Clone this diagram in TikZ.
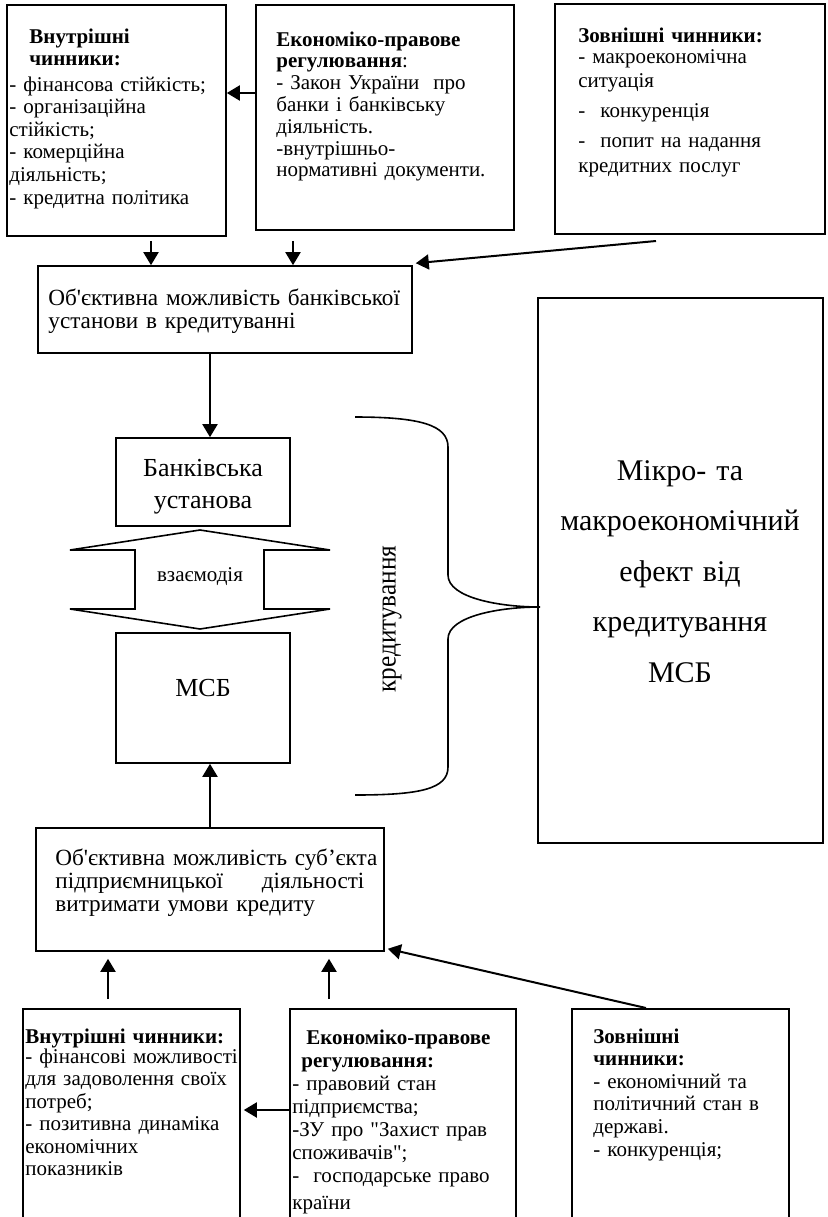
\documentclass[tikz,border=0pt]{standalone}
\usepackage{fontspec}
\setmainfont{Liberation Serif}[Ligatures=TeXOff]
\usetikzlibrary{arrows.meta,fit,calc}

\tikzset{
  box/.style={draw, line width=0.8pt, inner sep=0pt},
  arr/.style={line width=1pt, -{Triangle[length=6.5pt,width=7.5pt]}},
  txt/.style={anchor=base west, inner sep=0pt, align=left},
  ctxt/.style={anchor=base, inner sep=0pt, align=center},
}

\begin{document}
\begin{tikzpicture}[x=0.5pt, y=-0.5pt]
    \path[use as bounding box, clip] (0,0) rectangle (827,1217);

    \node (a) [box, fit={(7,5) (226,236)}] {};
    \node (b) [box, fit={(256,5) (514,230)}] {};
    \node (c) [box, fit={(555,4) (825,234)}] {};
    \node (d) [box, fit={(38,266) (412,353)}] {};
    \node (bank) [box, fit={(116,438) (290,526)}] {};
    \node (msb) [box, fit={(116,633) (290,763)}] {};
    \node (effect) [box, fit={(538,298) (823,843)}] {};
    \node (d2) [box, fit={(36,828) (384,951)}] {};
    \node (a2) [box, fit={(23,1009) (240,1240)}] {};
    \node (b2) [box, fit={(290,1009) (516,1240)}] {};
    \node (c2) [box, fit={(572,1009) (789,1240)}] {};

    \node (atitle) [txt, text width=90pt, font=\fontsize{10.5}{11.3}\selectfont] at (29,43)
      {\textbf{Внутрішні}\\ \textbf{чинники:}};
    \node (atxt) [txt, text width=110pt, font=\fontsize{10.5}{11.3}\selectfont] at (9,91)
      {- фінансова стійкість;\\ - організаційна\\ стійкість;\\ - комерційна\\
       діяльність;\\ - кредитна політика};
    \node (btxt) [txt, text width=125pt, font=\fontsize{10.5}{10.9}\selectfont] at (276,46)
      {\textbf{Економіко-правове}\\ \textbf{регулювання}:\\ - Закон України\ \ про\\
       банки і банківську\\ діяльність.\\ -внутрішньо-\\ нормативні документи.};
    \node (ctxt) [txt, text width=125pt, font=\fontsize{10.5}{10.5}\selectfont] at (578,42)
      {\textbf{Зовнішні чинники:}\\ - макроекономічна\\[1.5pt] ситуація\\[4.5pt]
       -\hspace{7.5pt}конкуренція\\[4.5pt] -\hspace{7.5pt}попит на надання\\[2pt]
       кредитних послуг};
    \node (dtxt) [txt, text width=185pt, font=\fontsize{11.6}{11.6}\selectfont] at (48,305)
      {Об'єктивна можливість банківської\\ установи в кредитуванні};
    \node (banktxt) [ctxt, text width=85pt, font=\fontsize{13}{16}\selectfont] at (203,476)
      {Банківська\\ установа};
    \node (msbtxt) [ctxt, font=\fontsize{13}{16}\selectfont] at (203,696) {МСБ};
    \node (effecttxt) [ctxt, text width=140pt, font=\fontsize{15}{25.25}\selectfont] at (680,480)
      {Мікро- та\\ макроекономічний\\ ефект від\\ кредитування\\ МСБ};
    \node (d2txt) [txt, text width=170pt, font=\fontsize{11.6}{11.6}\selectfont] at (55,865)
      {Об'єктивна можливість суб’єкта\\
       \makebox[154.5pt]{підприємницької\hfill діяльності}\\ витримати умови кредиту};
    \node (a2txt) [txt, text width=115pt, font=\fontsize{10.5}{11.2}\selectfont] at (25,1043)
      {\textbf{Внутрішні чинники:}\\[-1pt] - фінансові можливості\\ для задоволення своїх\\
       потреб;\\ - позитивна динаміка\\ економічних\\ показників};
    \node (b2txt) [txt, text width=115pt, font=\fontsize{10.5}{11.5}\selectfont] at (292,1044)
      {\hspace*{7pt}\textbf{Економіко-правове}\\ \hspace*{4.5pt}\textbf{регулювання:}\\
       - правовий стан\\ підприємства;\\ -ЗУ про "Захист прав\\ споживачів";\\
       -\ \ господарське право\\[2pt] країни};
    \node (c2txt) [txt, text width=105pt, font=\fontsize{10.5}{11.3}\selectfont] at (593,1043)
      {\textbf{Зовнішні}\\ \textbf{чинники:}\\ - економічний та\\ політичний стан в\\
       державі.\\ - конкуренція;};

    \draw[line width=0.8pt] (200,530) -- (330,550) -- (264,550) -- (264,609) -- (330,609)
      -- (200,629) -- (70,609) -- (135,609) -- (135,550) -- (70,550) -- cycle;
    \node (inter) [ctxt, font=\fontsize{10.5}{11}\selectfont] at (200,581) {взаємодія};

    \draw[line width=0.8pt] (355,417) .. controls (420,417) and (448,425) .. (448,447)
      -- (448,575) .. controls (448,598) and (500,607) .. (540,607)
      .. controls (500,607) and (448,616) .. (448,639)
      -- (448,767) .. controls (448,789) and (420,795) .. (355,795);
    \node (kred) [rotate=90, inner sep=0pt, font=\fontsize{14}{14}\selectfont]
      at (392,619) {\scalebox{0.9}[1]{кредитування}};

    \coordinate (ba) at (256,93);
    \coordinate (xad) at (151,0);
    \coordinate (xbd) at (293,0);
    \coordinate (cd) at (656,241);
    \coordinate (xmid) at (210,0);
    \coordinate (xa2) at (108,0);
    \coordinate (xb2) at (329,0);
    \coordinate (c2d) at (646,1008);
    \coordinate (ba2) at (290,1110);

    \draw[arr] (ba) -- (ba -| a.east);
    \draw[arr, shorten <=2pt] (xad |- a.south) -- (xad |- d.north);
    \draw[arr, shorten <=5pt] (xbd |- b.south) -- (xbd |- d.north);
    \draw[arr] (cd) -- ([shift={(3,-2)}]d.north east);
    \draw[arr] (xmid |- d.south) -- (xmid |- bank.north);
    \draw[arr] (xmid |- d2.north) -- (xmid |- msb.south);
    \draw[arr, shorten <=4.5pt, shorten >=3.5pt] (xa2 |- a2.north) -- (xa2 |- d2.south);
    \draw[arr, shorten <=4.5pt, shorten >=3.5pt] (xb2 |- b2.north) -- (xb2 |- d2.south);
    \draw[arr] (c2d) -- ([shift={(3,-3)}]d2.south east);
    \draw[arr, shorten >=1.5pt] (ba2) -- (ba2 -| a2.east);
\end{tikzpicture}
\end{document}
